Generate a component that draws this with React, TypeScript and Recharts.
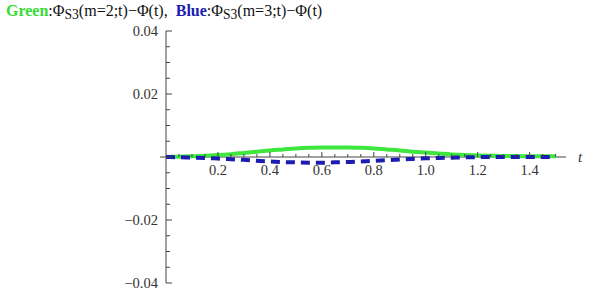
import React from 'react';
import { ComposedChart, Line, XAxis, YAxis, ReferenceLine, ReferenceDot } from 'recharts';

const tValues = [0, 0.05, 0.1, 0.15, 0.2, 0.25, 0.3, 0.35, 0.4, 0.45, 0.5, 0.55, 0.6, 0.65, 0.7, 0.75, 0.8, 0.85, 0.9, 0.95, 1.0, 1.05, 1.1, 1.15, 1.2, 1.25, 1.3, 1.35, 1.4, 1.45, 1.5];
const greenValues = [0, 0.0001, 0.0002, 0.0004, 0.0006, 0.0009, 0.0013, 0.0017, 0.0021, 0.0024, 0.0027, 0.0029, 0.003, 0.003, 0.003, 0.0029, 0.0027, 0.0024, 0.0021, 0.0017, 0.0014, 0.0011, 0.0008, 0.0006, 0.0005, 0.0004, 0.0003, 0.0003, 0.0002, 0.0002, 0.0002];
const blueValues = [0, -0.0001, -0.0002, -0.0003, -0.0005, -0.0007, -0.0009, -0.0012, -0.0014, -0.0016, -0.0017, -0.0018, -0.0018, -0.0017, -0.0016, -0.0014, -0.0012, -0.001, -0.0008, -0.0006, -0.0004, -0.0003, -0.0002, -0.0001, -0.00005, 0, 0, 0, 0, 0, 0];

const xMajorTicks = [0.2, 0.4, 0.6, 0.8, 1.0, 1.2, 1.4];
const xMajorLabels = ['0.2', '0.4', '0.6', '0.8', '1.0', '1.2', '1.4'];
const xMinorTicks = [0.05, 0.1, 0.15, 0.25, 0.3, 0.35, 0.45, 0.5, 0.55, 0.65, 0.7, 0.75, 0.85, 0.9, 0.95, 1.05, 1.1, 1.15, 1.25, 1.3, 1.35, 1.45, 1.5];
const yTicks = [0.04, 0.035, 0.03, 0.025, 0.02, 0.015, 0.01, 0.005, 0, -0.005, -0.01, -0.015, -0.02, -0.025, -0.03, -0.035, -0.04];
const yMajorTicks = [0.04, 0.02, 0, -0.02, -0.04];
const yMajorLabels = ['0.04', '0.02', '', '\u22120.02', '\u22120.04'];

const data = tValues.map((t, i) => ({ t, green: greenValues[i], blue: blueValues[i] }));

const FONT = 'Liberation Serif';
const AXIS = '#444';
const LABEL = '#333';

const YTick = (props: any) => {
  const { x, y, payload } = props;
  const v = payload.value;
  const mi = yMajorTicks.findIndex((m) => Math.abs(m - v) < 1e-9);
  const major = mi >= 0;
  return (
    <g>
      <line x1={Math.abs(v) < 1e-9 ? x - 6 : x} x2={x + (major ? 6 : 4)} y1={y} y2={y} stroke={AXIS} strokeWidth={1} />
      {major && yMajorLabels[mi] !== '' && (
        <text x={x - 8} y={y} dy="0.35em" textAnchor="end" style={{ fontFamily: FONT }} fontSize={14.5} fill={LABEL}>
          {yMajorLabels[mi]}
        </text>
      )}
    </g>
  );
};

const XMajorShape = (label: string) => (p: any) => (
  <g>
    <line x1={p.cx} x2={p.cx} y1={p.cy} y2={p.cy - 5} stroke={AXIS} strokeWidth={1} />
    <text x={p.cx} y={p.cy + 18} textAnchor="middle" style={{ fontFamily: FONT }} fontSize={14.5} fill={LABEL}>
      {label}
    </text>
  </g>
);

const XMinorShape = (p: any) => (
  <line x1={p.cx} x2={p.cx} y1={p.cy} y2={p.cy - 3} stroke={AXIS} strokeWidth={1} />
);

const TLabelShape = (p: any) => (
  <text x={p.cx + 14} y={p.cy} dy="0.3em" textAnchor="middle" style={{ fontFamily: FONT }} fontStyle="italic" fontSize={15} fill={LABEL}>
    t
  </text>
);

export default function App() {
  return (
    <div style={{ position: 'absolute', left: 0, top: 0, width: 596, height: 298, background: '#fff' }}>
      <div
        style={{
          position: 'absolute',
          left: 6,
          top: 2,
          fontFamily: FONT,
          fontSize: 16,
          whiteSpace: 'pre',
          color: '#111',
          lineHeight: '18px',
        }}
      >
        <b style={{ color: '#33dd33' }}>Green</b>:Φ<sub style={{ fontSize: '0.85em', verticalAlign: '-0.25em', lineHeight: 0 }}>S3</sub>(m=2;t)−Φ(t),  <b style={{ color: '#1c1cb0' }}>Blue</b>:Φ<sub style={{ fontSize: '0.85em', verticalAlign: '-0.25em', lineHeight: 0 }}>S3</sub>(m=3;t)−Φ(t)
      </div>
      <ComposedChart width={596} height={298} data={data} margin={{ top: 31, right: 30, bottom: 15, left: 106 }}>
        <XAxis dataKey="t" type="number" domain={[0, 1.54]} hide allowDataOverflow />
        <YAxis
          type="number"
          domain={[-0.04, 0.04]}
          ticks={yTicks}
          interval={0}
          width={60}
          tickSize={0}
          tickMargin={0}
          tickLine={false}
          axisLine={{ stroke: AXIS, strokeWidth: 1 }}
          tick={<YTick />}
          allowDataOverflow
        />
        <ReferenceLine y={0} stroke={AXIS} strokeWidth={1} />
        {xMinorTicks.map((t) => (
          <ReferenceDot key={'mi' + t} x={t} y={0} r={0} shape={XMinorShape} />
        ))}
        {xMajorTicks.map((t, i) => (
          <ReferenceDot key={'ma' + t} x={t} y={0} r={0} shape={XMajorShape(xMajorLabels[i])} />
        ))}
        <ReferenceDot x={1.54} y={0} r={0} shape={TLabelShape} />
        <Line type="monotone" dataKey="green" stroke="#3ee63e" strokeWidth={4} dot={false} isAnimationActive={false} />
        <Line type="monotone" dataKey="blue" stroke="#1c1cb0" strokeWidth={4} strokeDasharray="9 6" dot={false} isAnimationActive={false} />
      </ComposedChart>
    </div>
  );
}
